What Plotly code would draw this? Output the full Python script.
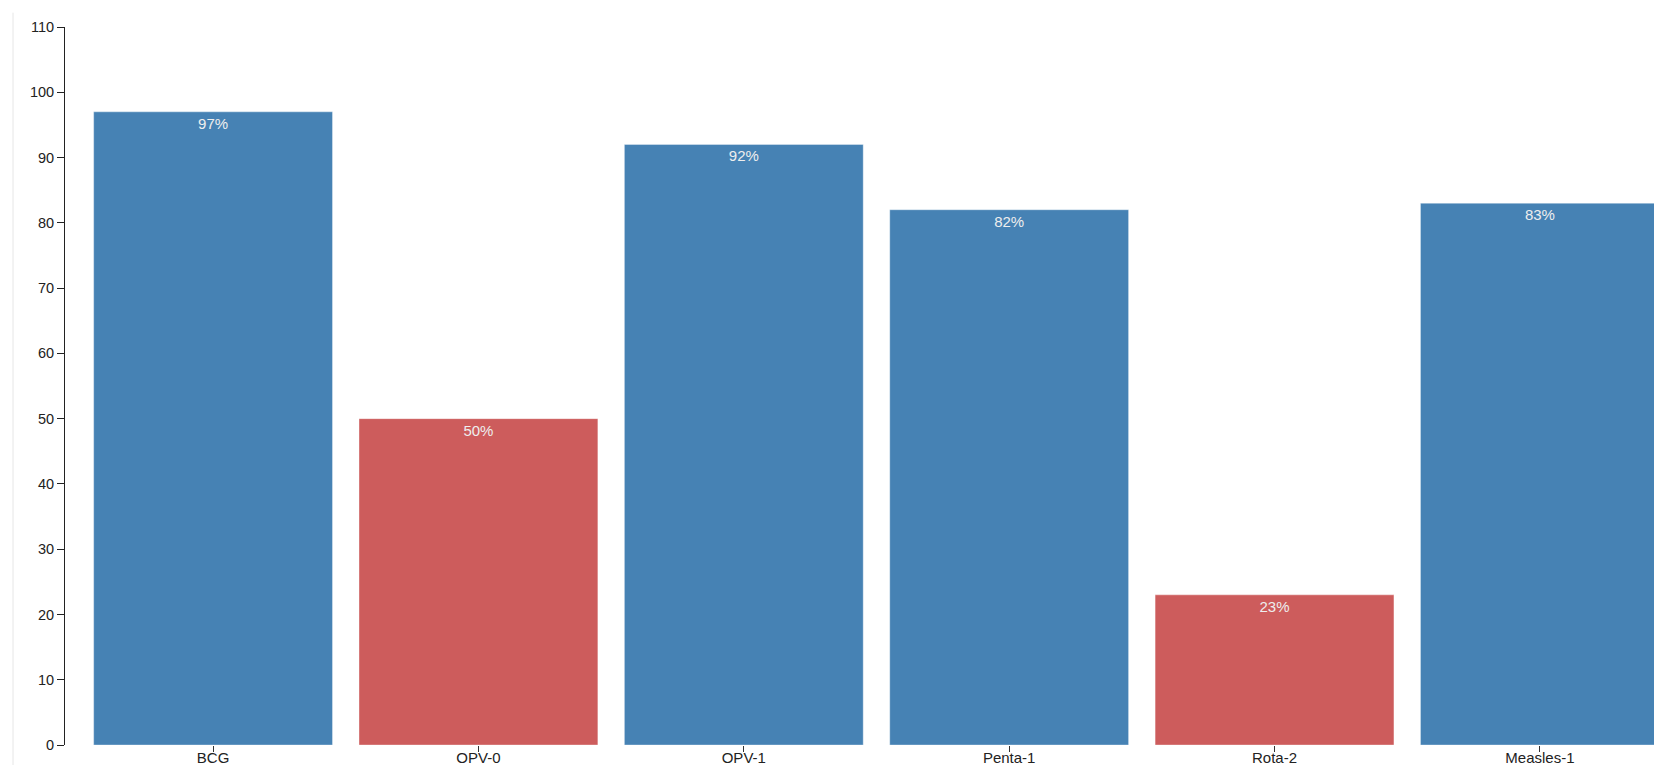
import plotly.graph_objects as go

categories = ["BCG", "OPV-0", "OPV-1", "Penta-1", "Rota-2", "Measles-1"]
values = [97, 50, 92, 82, 23, 83]
labels = ["97%", "50%", "92%", "82%", "23%", "83%"]
bar_colors = ["#4682b4", "#cd5c5c", "#4682b4", "#4682b4", "#cd5c5c", "#4682b4"]
y_ticks = list(range(0, 111, 10))

# page body has an 8px margin; figure sized to fit inside the window
W, H = 1646, 757
L, R, T, B = 57, 0, 19, 20

fig = go.Figure(go.Bar(
    x=categories, y=values, text=labels,
    textposition="inside", insidetextanchor="end",
    textfont=dict(color="#eeeeee", size=15, family="Liberation Sans, Arial"),
    marker=dict(color=bar_colors, line=dict(color="rgba(255,255,255,0.35)", width=1)),
    cliponaxis=True,
))

fig.update_layout(
    width=W, height=H,
    margin=dict(l=L, r=R, t=T, b=B, pad=0, autoexpand=False),
    plot_bgcolor="white", paper_bgcolor="white",
    bargap=0.1, showlegend=False,
    font=dict(family="Liberation Sans, Arial", size=15, color="#222"),
    xaxis=dict(
        range=[-0.558, 5.43], showgrid=False, showline=False, zeroline=False,
        ticks="outside", ticklen=6, tickcolor="#333", tickwidth=1,
        ticklabelstandoff=-7,
        tickfont=dict(size=15, color="#222"), fixedrange=True, automargin=False,
    ),
    yaxis=dict(
        range=[0, 110], tickvals=y_ticks, showgrid=False, zeroline=False,
        showline=True, linecolor="#222", linewidth=1,
        ticks="outside", ticklen=7, tickcolor="#222", tickwidth=1,
        tickfont=dict(size=14.5, color="#222"), fixedrange=True, automargin=False,
    ),
    shapes=[dict(type="line", xref="paper", yref="paper",
                 x0=(5 - L) / (W - L - R), x1=(5 - L) / (W - L - R),
                 y0=-0.05, y1=1.02, line=dict(color="#e6e6e6", width=1))],
)

fig.write_html("out.html", config={"displayModeBar": False})
